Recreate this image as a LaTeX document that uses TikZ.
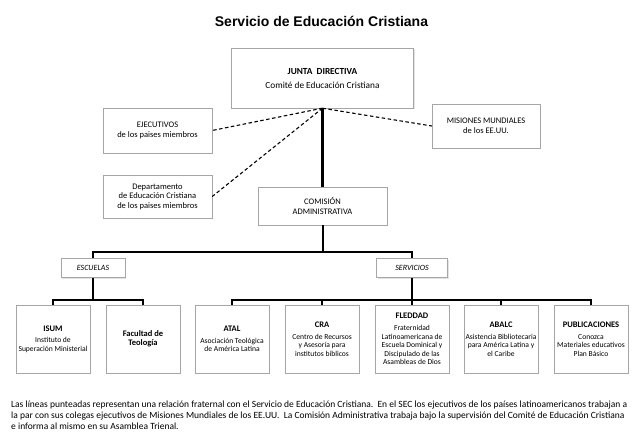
\documentclass[tikz,border=0pt]{standalone}
\usepackage{fontspec}
\setmainfont{Carlito}
\newfontfamily\headfont{Liberation Sans}
\usetikzlibrary{shadows}
\newcommand\unithead[1]{{\fontsize{8.5}{10}\selectfont\bfseries #1}}

\begin{document}
\begin{tikzpicture}[x=1pt,y=-1pt,every node/.style={align=center,inner sep=1pt},
    orgbox/.style={draw=black!35,fill=white,drop shadow={shadow xshift=1.2pt,shadow yshift=-1.2pt,fill=black!22}},
    sidebox/.style={orgbox,font=\fontsize{8.5}{9.5}\selectfont},
    groupbox/.style={orgbox,minimum height=19pt,font=\fontsize{8}{9}\selectfont\itshape},
    unitbox/.style={orgbox,minimum width=74pt,minimum height=68pt,font=\fontsize{7.6}{8.4}\selectfont},
    trunk/.style={line width=2.6pt},
    branch/.style={line width=2pt},
    fraternal/.style={dash pattern=on 3.5pt off 2.5pt,line width=1.1pt}]
    \useasboundingbox (0,0) rectangle (640,446);
    \node[font=\headfont\bfseries\fontsize{14}{16}\selectfont,anchor=base] (title) at (321.5,27) {Servicio de Educación Cristiana};
    \node[orgbox,minimum width=182pt,minimum height=60pt,font=\fontsize{9.3}{11}\selectfont] (junta) at (322.5,78) {\textbf{JUNTA\ \ DIRECTIVA}\\[3pt]Comité de Educación Cristiana};
    \node[sidebox,minimum width=109pt,minimum height=45pt] (ejecutivos) at (157.5,130.5) {EJECUTIVOS\\de los paises miembros};
    \node[sidebox,minimum width=109pt,minimum height=43pt] (departamento) at (157.5,196.5) {Departamento\\de Educación Cristiana\\de los paises miembros};
    \node[sidebox,minimum width=108pt,minimum height=44pt] (misiones) at (486,126) {MISIONES MUNDIALES\\de los EE.UU.};
    \node[sidebox,minimum width=129pt,minimum height=38pt] (comision) at (322.5,206) {COMISIÓN\\ADMINISTRATIVA};
    \node[groupbox,minimum width=64pt] (escuelas) at (93,268) {ESCUELAS};
    \node[groupbox,minimum width=71pt] (servicios) at (412,268) {SERVICIOS};
    \node[unitbox] (isum) at (53,339) {\unithead{ISUM}\\[3.5pt]Instituto de\\Superación Ministerial};
    \node[unitbox] (facultad) at (143,339) {\unithead{Facultad de}\\[0.6pt]\unithead{Teología}};
    \node[unitbox] (atal) at (232,339) {\unithead{ATAL}\\[3.5pt]Asociación Teológica\\de América Latina};
    \node[unitbox] (cra) at (322,339) {\unithead{CRA}\\[3.5pt]Centro de Recursos\\y Asesoría para\\institutos bíblicos};
    \node[unitbox] (fleddad) at (412,339) {\unithead{FLEDDAD}\\[3.5pt]Fraternidad\\Latinoamericana de\\Escuela Dominical y\\Discipulado de las\\Asambleas de Dios};
    \node[unitbox] (abalc) at (501,339) {\unithead{ABALC}\\[3.5pt]Asistencia Bibliotecaria\\para América Latina y\\el Caribe};
    \node[unitbox] (publicaciones) at (591,339) {\unithead{PUBLICACIONES}\\[3.5pt]Conozca\\Materiales educativos\\Plan Básico};
    \node[anchor=north west,align=left,inner sep=0pt,font=\fontsize{9.5}{11}\selectfont] (nota) at (11,401) {Las líneas punteadas representan una relación fraternal con el Servicio de Educación Cristiana.\ \ En el SEC los ejecutivos de los países latinoamericanos trabajan a\\la par con sus colegas ejecutivos de Misiones Mundiales de los EE.UU.\ \ La Comisión Administrativa trabaja bajo la supervisión del Comité de Educación Cristiana\\e informa al mismo en su Asamblea Trienal.};
    \coordinate (topbus) at (322.5,252);
    \coordinate (escbus) at (93,300);
    \coordinate (servbus) at (412,300);
    \draw[fraternal] (junta.south) -- (ejecutivos.east);
    \draw[fraternal] (junta.south) -- (departamento.east);
    \draw[fraternal] (junta.south) -- (misiones.west);
    \draw[trunk] (junta.south) -- (comision.north);
    \draw[branch] (comision.south) -- (topbus);
    \draw[branch] (escuelas.north) |- (topbus) -| (servicios.north);
    \draw[branch] (escuelas.south) -- (escbus);
    \draw[branch] (isum.north) |- (escbus) -| (facultad.north);
    \draw[branch] (servicios.south) -- (fleddad.north);
    \draw[branch] (atal.north) |- (servbus) -| (publicaciones.north);
    \draw[branch] (cra.north) -- (cra.north |- servbus);
    \draw[branch] (abalc.north) -- (abalc.north |- servbus);
\end{tikzpicture}
\end{document}
